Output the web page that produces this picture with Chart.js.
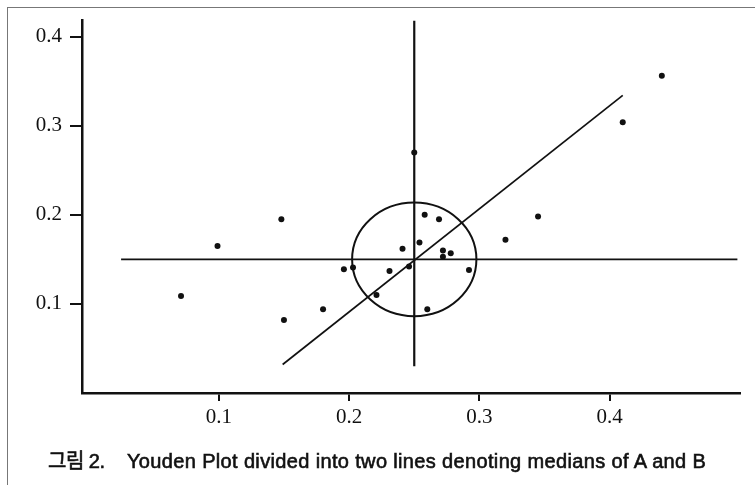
<!DOCTYPE html>
<html lang="ko">
<head>
    <meta charset="UTF-8">
    <title>Youden Plot</title>
    <style>
        body {
            margin: 0;
            background: #fff;
        }
        .frame {
            position: relative;
            width: 755px;
            height: 485px;
            overflow: hidden;
        }
        .border {
            position: absolute;
            left: 7px;
            top: 7px;
            width: 760px;
            height: 490px;
            border-top: 1px solid #777;
            border-left: 1px solid #777;
        }
        #chart {
            position: absolute;
            left: 0;
            top: 0;
        }
        .caption {
            position: absolute;
            left: 48px;
            top: 449px;
            font-family: "Liberation Sans", "Noto Sans CJK KR", sans-serif;
            font-size: 20px;
            line-height: 24px;
            color: #111;
            white-space: nowrap;
            -webkit-text-stroke: 0.6px #111;
        }
        .caption .num {
            display: inline-block;
            width: 79px;
            letter-spacing: -0.5px;
        }
        .caption .text {
            letter-spacing: 0.35px;
        }
    </style>
</head>
<body>
    <div class="frame">
        <div class="border"></div>
        <canvas id="chart" width="755" height="485"></canvas>
        <div class="caption"><span class="num">그림 2.</span><span class="text">Youden Plot divided into two lines denoting medians of A and B</span></div>
    </div>

    <script src="https://cdn.jsdelivr.net/npm/chart.js"></script>
    <script>
        // results of sample A (x) and sample B (y)
        const sampleA = [0.071, 0.099, 0.148, 0.150, 0.180, 0.196, 0.203, 0.221, 0.231, 0.241, 0.246, 0.254,
                         0.250, 0.258, 0.269, 0.272, 0.278, 0.272, 0.292, 0.260, 0.320, 0.345, 0.410, 0.440];
        const sampleB = [0.109, 0.165, 0.195, 0.082, 0.094, 0.139, 0.141, 0.110, 0.137, 0.162, 0.142, 0.169,
                         0.270, 0.200, 0.195, 0.160, 0.157, 0.153, 0.138, 0.094, 0.172, 0.198, 0.304, 0.356];

        const tickValues = [0.1, 0.2, 0.3, 0.4];
        const xRange = [-0.005, 0.5];
        const yRange = [0, 0.418];

        // medians of A and B and the lines through them
        const medianA = 0.25;
        const medianB = 0.15;
        const medianASpan = [0.03, 0.418];
        const medianBSpan = [0.025, 0.498];
        const diagonalA = [0.149, 0.41];
        const diagonalB = [0.032, 0.334];

        // circle around the medians (radius in units of A and B)
        const circleCenter = [medianA, medianB];
        const circleRadius = [0.0477, 0.0638];

        const ink = '#111';

        const points = sampleA.map((a, i) => ({ x: a, y: sampleB[i] }));

        function segment(xs, ys) {
            return xs.map((v, i) => ({ x: v, y: ys[i] }));
        }

        const circlePlugin = {
            id: 'circle',
            afterDatasetsDraw(chart) {
                const { ctx, scales: { x, y } } = chart;
                const cx = x.getPixelForValue(circleCenter[0]);
                const cy = y.getPixelForValue(circleCenter[1]);
                const rx = Math.abs(x.getPixelForValue(circleCenter[0] + circleRadius[0]) - cx);
                const ry = Math.abs(y.getPixelForValue(circleCenter[1] + circleRadius[1]) - cy);
                ctx.save();
                ctx.beginPath();
                ctx.ellipse(cx, cy, rx, ry, 0, 0, Math.PI * 2);
                ctx.lineWidth = 2;
                ctx.strokeStyle = ink;
                ctx.stroke();
                ctx.restore();
            }
        };

        const lineStyle = {
            showLine: true,
            pointRadius: 0,
            borderColor: ink,
            order: 1
        };

        new Chart(document.getElementById('chart'), {
            type: 'scatter',
            data: {
                datasets: [
                    {
                        label: 'A vs B',
                        data: points,
                        pointRadius: 3,
                        pointBackgroundColor: ink,
                        pointBorderWidth: 0,
                        order: 0
                    },
                    { ...lineStyle, label: 'median A', data: segment([medianA, medianA], medianASpan), borderWidth: 2.2 },
                    { ...lineStyle, label: 'median B', data: segment(medianBSpan, [medianB, medianB]), borderWidth: 1.7 },
                    { ...lineStyle, label: 'diagonal', data: segment(diagonalA, diagonalB), borderWidth: 1.7 }
                ]
            },
            options: {
                responsive: false,
                animation: false,
                layout: {
                    padding: { top: 18, right: 15, bottom: 47, left: 0 }
                },
                plugins: {
                    legend: { display: false },
                    tooltip: { enabled: false }
                },
                scales: {
                    x: {
                        type: 'linear',
                        min: xRange[0],
                        max: xRange[1],
                        afterBuildTicks: scale => { scale.ticks = tickValues.map(v => ({ value: v })); },
                        afterFit: scale => { scale.height = 45; },
                        grid: { drawOnChartArea: false, drawTicks: true, tickLength: 8, color: ink, lineWidth: 2 },
                        border: { color: ink, width: 2.5 },
                        ticks: {
                            color: ink,
                            padding: 4,
                            font: { family: 'Liberation Serif', size: 21 },
                            callback: v => v.toFixed(1)
                        }
                    },
                    y: {
                        type: 'linear',
                        min: yRange[0],
                        max: yRange[1],
                        afterBuildTicks: scale => { scale.ticks = tickValues.map(v => ({ value: v })); },
                        afterFit: scale => { scale.width = 82; },
                        grid: { drawOnChartArea: false, drawTicks: true, tickLength: 12, color: ink, lineWidth: 2 },
                        border: { color: ink, width: 2.5 },
                        ticks: {
                            color: ink,
                            padding: 8,
                            font: { family: 'Liberation Serif', size: 21 },
                            callback: v => v.toFixed(1)
                        }
                    }
                }
            },
            plugins: [circlePlugin]
        });
    </script>
</body>
</html>
